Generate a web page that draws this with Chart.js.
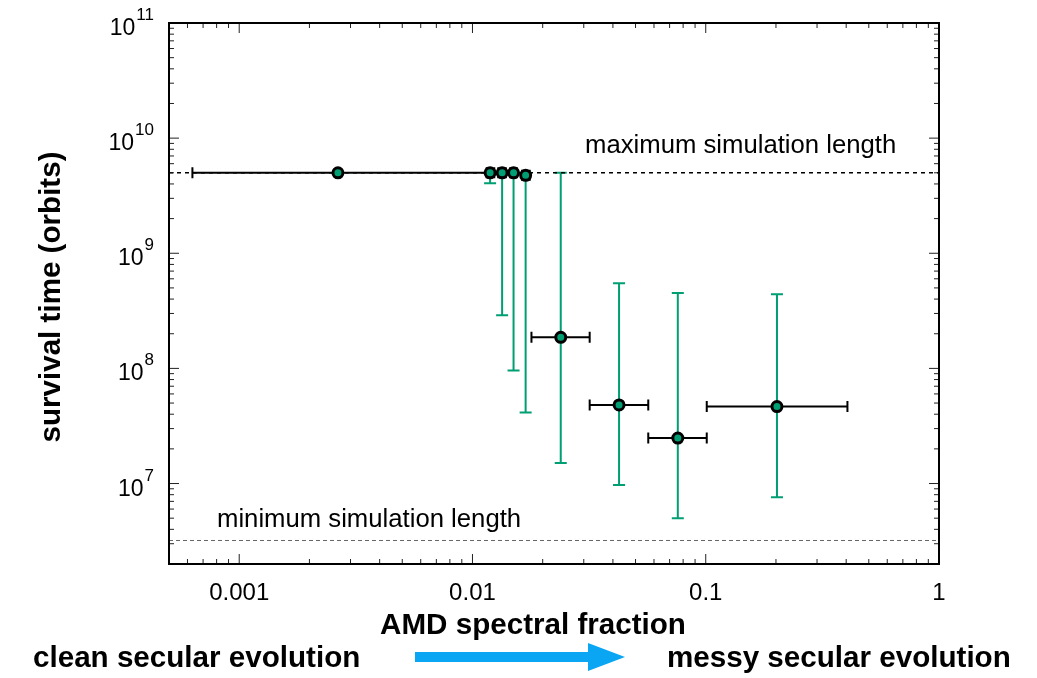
<!DOCTYPE html>
<html>
<head>
<meta charset="utf-8">
<script src="https://cdn.jsdelivr.net/npm/chart.js@4"></script>
<style>
  body { margin: 0; background: #fff; }
  canvas { display: block; }
</style>
</head>
<body>
<canvas id="survival-chart" width="1037" height="678"></canvas>
<script>
// values
const amdFraction = [0.00265, 0.0119, 0.0134, 0.0150, 0.0169, 0.0239, 0.0425, 0.0759, 0.202];
const survivalTime = [5e9, 5e9, 5e9, 5e9, 4.75e9, 1.86e8, 4.82e7, 2.48e7, 4.66e7];
const amdLow  = [0.00063, 0.0115, 0.0129, 0.0145, 0.0163, 0.0179, 0.0318, 0.0567, 0.101];
const amdHigh = [0.0116, 0.0124, 0.0139, 0.0155, 0.0176, 0.0318, 0.0567, 0.101, 0.405];
const timeLow  = [5e9, 4.05e9, 2.9e8, 9.6e7, 4.13e7, 1.51e7, 9.7e6, 5.0e6, 7.6e6];
const timeHigh = [5e9, 5e9, 5e9, 5e9, 5e9, 5e9, 5.5e8, 4.52e8, 4.4e8];

const maxSimLength = 5e9;
const minSimLength = 3.2e6;

const xTickValues = [0.001, 0.01, 0.1, 1];
const xTickLabels = ['0.001', '0.01', '0.1', '1'];
const yTickExponents = [7, 8, 9, 10, 11];

const xRange = [0.0005, 1];
const yRange = [2e6, 1e11];

const GREEN = '#009e73';
const FONT = '"Liberation Sans", Arial, Helvetica, sans-serif';

// error bars, ticks, frame and labels
const decorations = {
    id: 'decorations',
    beforeDatasetsDraw(chart) {
        const ctx = chart.ctx;
        const xs = chart.scales.x, ys = chart.scales.y;
        ctx.save();
        // horizontal (black) bars
        ctx.strokeStyle = '#000';
        ctx.lineWidth = 2;
        for (let i = 0; i < amdFraction.length; i++) {
            const y = ys.getPixelForValue(survivalTime[i]);
            const x0 = xs.getPixelForValue(amdLow[i]);
            const x1 = xs.getPixelForValue(amdHigh[i]);
            ctx.beginPath();
            ctx.moveTo(x0, y); ctx.lineTo(x1, y);
            ctx.moveTo(x0, y - 5.5); ctx.lineTo(x0, y + 5.5);
            ctx.moveTo(x1, y - 5.5); ctx.lineTo(x1, y + 5.5);
            ctx.stroke();
        }
        // vertical (green) bars
        ctx.strokeStyle = GREEN;
        for (let i = 0; i < amdFraction.length; i++) {
            if (timeLow[i] === timeHigh[i]) continue;
            const x = xs.getPixelForValue(amdFraction[i]);
            const y0 = ys.getPixelForValue(timeLow[i]);
            const y1 = ys.getPixelForValue(timeHigh[i]);
            ctx.beginPath();
            ctx.moveTo(x, y0); ctx.lineTo(x, y1);
            ctx.moveTo(x - 6, y0); ctx.lineTo(x + 6, y0);
            ctx.moveTo(x - 6, y1); ctx.lineTo(x + 6, y1);
            ctx.stroke();
        }
        ctx.restore();
    },
    afterDraw(chart) {
        const ctx = chart.ctx;
        const xs = chart.scales.x, ys = chart.scales.y;
        const a = chart.chartArea;
        ctx.save();

        // minor + major ticks, inside on all four sides
        ctx.strokeStyle = '#222';
        ctx.lineWidth = 1;
        ctx.beginPath();
        for (let e = -4; e <= 0; e++) {
            for (let m = 1; m <= 9; m++) {
                const v = m * Math.pow(10, e);
                if (v < xRange[0] || v > xRange[1]) continue;
                const len = m === 1 ? 10 : 5;
                const px = xs.getPixelForValue(v);
                ctx.moveTo(px, a.bottom); ctx.lineTo(px, a.bottom - len);
                ctx.moveTo(px, a.top); ctx.lineTo(px, a.top + len);
            }
        }
        for (let e = 6; e <= 11; e++) {
            for (let m = 1; m <= 9; m++) {
                const v = m * Math.pow(10, e);
                if (v < yRange[0] || v > yRange[1]) continue;
                const len = m === 1 ? 10 : 5;
                const py = ys.getPixelForValue(v);
                ctx.moveTo(a.left, py); ctx.lineTo(a.left + len, py);
                ctx.moveTo(a.right, py); ctx.lineTo(a.right - len, py);
            }
        }
        ctx.stroke();

        // frame
        ctx.strokeStyle = '#000';
        ctx.lineWidth = 2;
        ctx.strokeRect(a.left, a.top, a.right - a.left, a.bottom - a.top);

        // x tick labels
        ctx.fillStyle = '#000';
        ctx.font = '24px ' + FONT;
        ctx.textAlign = 'center';
        ctx.textBaseline = 'alphabetic';
        xTickValues.forEach((v, i) => {
            ctx.fillText(xTickLabels[i], xs.getPixelForValue(v), a.bottom + 36);
        });

        // y tick labels 10^n
        yTickExponents.forEach(e => {
            const py = ys.getPixelForValue(Math.pow(10, e));
            const right = 154;
            ctx.font = '17px ' + FONT;
            ctx.textAlign = 'right';
            const sup = String(e);
            const supW = ctx.measureText(sup).width;
            ctx.fillText(sup, right, py - 3);
            ctx.font = '23px ' + FONT;
            ctx.fillText('10', right - supW - 1, py + 12);
        });

        // reference line labels
        ctx.font = '25.7px ' + FONT;
        ctx.textAlign = 'left';
        ctx.fillText('maximum simulation length', 585, ys.getPixelForValue(maxSimLength) - 20);
        ctx.fillText('minimum simulation length', 217, ys.getPixelForValue(minSimLength) - 13);

        // axis titles
        ctx.font = 'bold 29.6px ' + FONT;
        ctx.textAlign = 'center';
        ctx.fillText('AMD spectral fraction', 533, 634);
        ctx.save();
        ctx.translate(60, 297);
        ctx.rotate(-Math.PI / 2);
        ctx.fillText('survival time (orbits)', 0, 0);
        ctx.restore();

        // bottom caption
        ctx.textAlign = 'left';
        ctx.fillText('clean secular evolution', 33, 667);
        ctx.fillText('messy secular evolution', 667, 667);

        // arrow
        ctx.fillStyle = '#0aa6f4';
        ctx.beginPath();
        ctx.moveTo(415, 652);
        ctx.lineTo(588, 652);
        ctx.lineTo(588, 643);
        ctx.lineTo(625, 657);
        ctx.lineTo(588, 671);
        ctx.lineTo(588, 662);
        ctx.lineTo(415, 662);
        ctx.closePath();
        ctx.fill();

        ctx.restore();
    }
};

const points = amdFraction.map((v, i) => ({ x: v, y: survivalTime[i] }));

const survivalChart = new Chart(document.getElementById('survival-chart'), {
    type: 'scatter',
    data: {
        datasets: [{
            label: 'systems',
            data: points,
            pointRadius: 5,
            pointHoverRadius: 5,
            pointBackgroundColor: GREEN,
            pointBorderColor: '#000',
            pointBorderWidth: 3,
            showLine: false
        }, {
            label: 'maximum simulation length',
            data: [{ x: xRange[0], y: maxSimLength }, { x: xRange[1], y: maxSimLength }],
            showLine: true,
            borderColor: '#000',
            borderWidth: 1.6,
            borderDash: [4, 4],
            pointRadius: 0
        }, {
            label: 'minimum simulation length',
            data: [{ x: xRange[0], y: minSimLength }, { x: xRange[1], y: minSimLength }],
            showLine: true,
            borderColor: '#666',
            borderWidth: 1,
            borderDash: [4, 3],
            pointRadius: 0
        }]
    },
    options: {
        responsive: false,
        animation: false,
        layout: { padding: { left: 169, top: 23, right: 98, bottom: 114 } },
        plugins: { legend: { display: false }, tooltip: { enabled: false } },
        scales: {
            x: { type: 'logarithmic', min: xRange[0], max: xRange[1], display: false },
            y: { type: 'logarithmic', min: yRange[0], max: yRange[1], display: false }
        }
    },
    plugins: [decorations]
});
</script>
</body>
</html>
